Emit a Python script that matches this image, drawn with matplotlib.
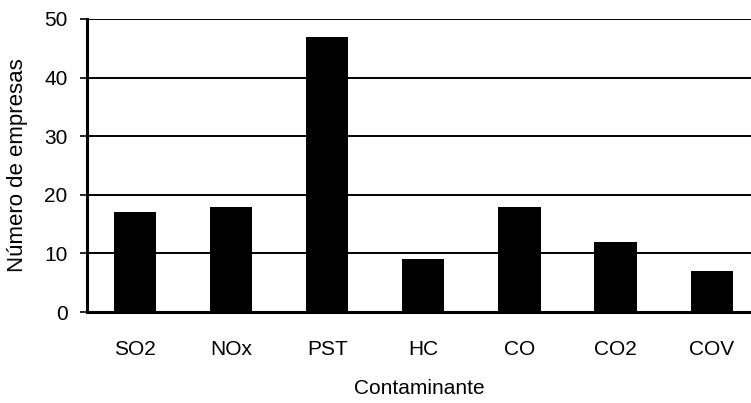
import matplotlib.pyplot as plt

categorias = ['SO2', 'NOx', 'PST', 'HC', 'CO', 'CO2', 'COV']
empresas = [17, 18, 47, 9, 18, 12, 7]
yticks = [0, 10, 20, 30, 40, 50]

plt.rcParams['font.family'] = ['Liberation Sans', 'DejaVu Sans']

W, H = 751, 403
fig = plt.figure(figsize=(W / 100, H / 100), dpi=100)
ax = fig.add_axes([87 / W, (H - 312) / H, (W - 87) / W, (312 - 19) / H])

x = list(range(len(categorias)))
ax.bar(x, empresas, width=0.44, color='black', zorder=3)

ax.set_ylim(0, 50)
ax.set_xlim(-0.5, -0.5 + (W - 87) / 96.1)
ax.set_yticks(yticks)
ax.set_xticks(x)
ax.set_xticklabels(categorias, fontsize=15)
ax.tick_params(axis='y', length=5, width=1.2, labelsize=15, pad=9)
ax.tick_params(axis='x', length=0, pad=20.5)
ax.yaxis.grid(True, color='black', linewidth=1.4, zorder=1)

for s in ['top', 'right']:
    ax.spines[s].set_visible(False)
ax.spines['left'].set_linewidth(2.2)
ax.spines['bottom'].set_linewidth(2.2)

ax.set_ylabel('Número de empresas', fontsize=16, labelpad=12)
ax.set_xlabel('Contaminante', fontsize=15, labelpad=14)

fig.savefig('out.png', dpi=100)
